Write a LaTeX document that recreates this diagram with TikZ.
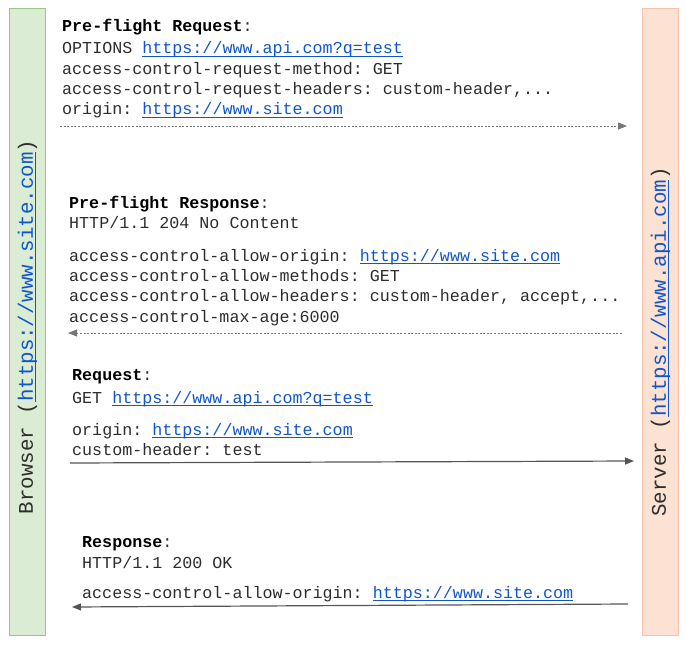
\documentclass[tikz,border=0pt]{standalone}
\usepackage{fontspec}
\setmonofont{Liberation Mono}
\usepackage{xcolor}
\usepackage{tikz}
\usetikzlibrary{arrows.meta,positioning}

\definecolor{linkblue}{RGB}{17,85,204}
\definecolor{textgray}{RGB}{45,45,45}
\definecolor{browserfill}{RGB}{219,236,213}
\definecolor{browserline}{RGB}{150,200,130}
\definecolor{serverfill}{RGB}{252,226,210}
\definecolor{serverline}{RGB}{247,195,168}
\definecolor{arrowgray}{RGB}{85,85,85}
\newsavebox{\linkbox}
\newcommand{\weblink}[1]{\textcolor{linkblue}{\sbox{\linkbox}{#1}\rlap{\usebox{\linkbox}}\rule[-2.6pt]{\wd\linkbox}{0.8pt}}}

\begin{document}
\begin{tikzpicture}[
    x=1pt, y=-1pt,
    every node/.style = {inner sep=0pt, text=textgray},
    lane/.style = {draw, line width=1.4pt, minimum width=36pt, minimum height=627pt},
    lanetext/.style = {rotate=90, font=\ttfamily\fontsize{20.8}{24}\selectfont},
    msg/.style = {anchor=north west, align=left, font=\ttfamily\fontsize{16.7}{20.3}\selectfont},
    dashmsg/.style = {arrowgray!80, line width=0.9pt, dash pattern=on 2pt off 1.6pt,
      -{Triangle[length=9pt,width=7pt]}},
    solidmsg/.style = {arrowgray, line width=1.2pt, -{Triangle[length=9pt,width=7pt]}}
  ]
  \useasboundingbox (0,0) rectangle (686,645);

  % Browser / Server
  \node[lane, draw=browserline, fill=browserfill] (browser) at (27.5,322) {};
  \node[lane, draw=serverline, fill=serverfill] (server) at (660.5,322) {};
  \node[lanetext] (browsertext) at (27.5,327) {Browser (\weblink{https://www.site.com})};
  \node[lanetext] (servertext) at (660.5,342) {Server (\weblink{https://www.api.com})};

  % Pre-flight request
  \node[msg] (pfreq) at (62,18.5) {\textbf{\textcolor{black}{Pre-flight Request}}:\\[2.5pt]
    OPTIONS \weblink{https://www.api.com?q=test}\\
    access-control-request-method: GET\\
    access-control-request-headers: custom-header,...\\
    origin: \weblink{https://www.site.com}};
  \coordinate (pfreqstart) at (60,126);
  \coordinate (pfreqend) at (627,126);
  \draw[dashmsg] (pfreqstart) -- (pfreqend);

  % Pre-flight response
  \node[msg] (pfresp) at (69,196) {\textbf{\textcolor{black}{Pre-flight Response}}:\\
    HTTP/1.1 204 No Content\\[12pt]
    access-control-allow-origin: \weblink{https://www.site.com}\\
    access-control-allow-methods: GET\\
    access-control-allow-headers: custom-header, accept,...\\
    access-control-max-age:6000};
  \coordinate (pfrespstart) at (622,333);
  \coordinate (pfrespend) at (68,333);
  \draw[dashmsg] (pfrespstart) -- (pfrespend);

  % Request
  \node[msg] (req) at (72,369) {\textbf{\textcolor{black}{Request}}:\\[3pt]
    GET \weblink{https://www.api.com?q=test}\\[11.5pt]
    origin: \weblink{https://www.site.com}\\
    custom-header: test};
  \coordinate (reqstart) at (70,463);
  \coordinate (reqend) at (634,461);
  \draw[solidmsg] (reqstart) -- (reqend);

  % Response
  \node[msg] (resp) at (82,536.5) {\textbf{\textcolor{black}{Response}}:\\
    HTTP/1.1 200 OK\\[10pt]
    access-control-allow-origin: \weblink{https://www.site.com}};
  \coordinate (respstart) at (628,604);
  \coordinate (respend) at (72,607);
  \draw[solidmsg] (respstart) -- (respend);
\end{tikzpicture}
\end{document}
